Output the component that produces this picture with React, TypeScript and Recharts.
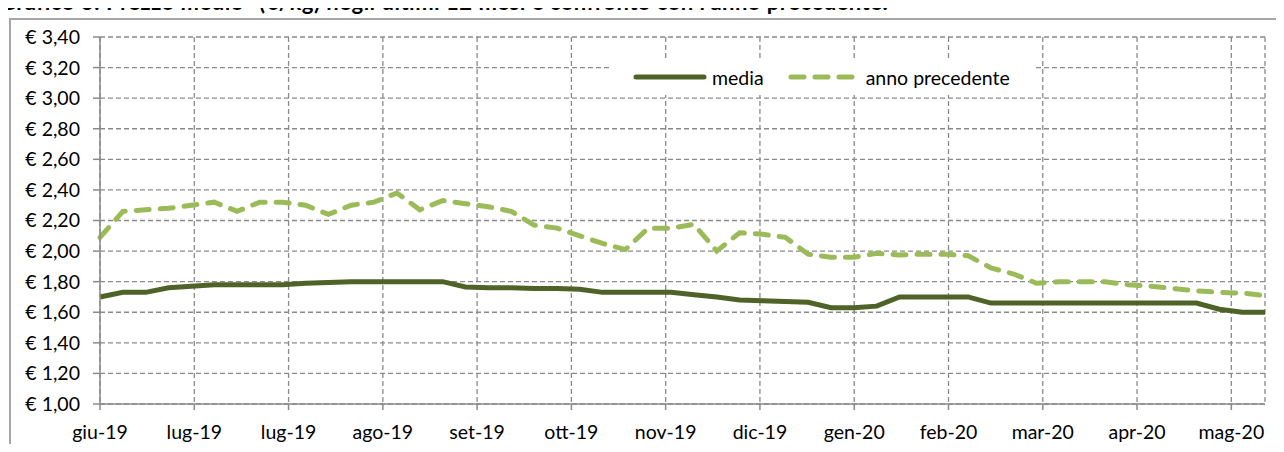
import { CartesianGrid, Legend, Line, LineChart, XAxis, YAxis } from "recharts";

// Prezzo medio settimanale (€/kg), ultimi 12 mesi vs anno precedente.

const TITLE =
  "Grafico 3: Prezzo medio* (€/kg) negli ultimi 12 mesi e confronto con l'anno precedente.";

const weeks = [
  1, 2, 3, 4, 5, 6, 7, 8, 9, 10, 11, 12, 13, 14, 15, 16, 17, 18, 19, 20, 21, 22, 23, 24, 25, 26,
  27, 28, 29, 30, 31, 32, 33, 34, 35, 36, 37, 38, 39, 40, 41, 42, 43, 44, 45, 46, 47, 48, 49, 50,
  51, 52,
];

const media = [
  1.7, 1.73, 1.73, 1.76, 1.77, 1.78, 1.78, 1.78, 1.78, 1.79, 1.795, 1.8, 1.8, 1.8, 1.8, 1.8,
  1.765, 1.76, 1.76, 1.755, 1.755, 1.75, 1.73, 1.73, 1.73, 1.73, 1.715, 1.7, 1.68, 1.675, 1.67,
  1.665, 1.63, 1.63, 1.64, 1.7, 1.7, 1.7, 1.7, 1.66, 1.66, 1.66, 1.66, 1.66, 1.66, 1.66, 1.66,
  1.66, 1.66, 1.62, 1.6, 1.6,
];

const annoPrecedente = [
  2.09, 2.26, 2.27, 2.28, 2.3, 2.32, 2.26, 2.32, 2.32, 2.3, 2.24, 2.3, 2.32, 2.38, 2.27, 2.33,
  2.31, 2.29, 2.26, 2.17, 2.15, 2.1, 2.05, 2.01, 2.15, 2.15, 2.175, 2.0, 2.12, 2.11, 2.09, 1.98,
  1.96, 1.96, 1.985, 1.975, 1.98, 1.98, 1.97, 1.89, 1.85, 1.79, 1.8, 1.8, 1.8, 1.78, 1.77, 1.755,
  1.74, 1.73, 1.725, 1.71,
];

const seriesNames = ["media", "anno precedente"];

// date axis: days since the first week, a label every 28 days
const tickDays = [0, 28, 56, 84, 112, 140, 168, 196, 224, 252, 280, 308, 336];
const tickLabels = [
  "giu-19", "lug-19", "lug-19", "ago-19", "set-19", "ott-19", "nov-19",
  "dic-19", "gen-20", "feb-20", "mar-20", "apr-20", "mag-20",
];
const lastDay = 346;

const yTicks = [1.0, 1.2, 1.4, 1.6, 1.8, 2.0, 2.2, 2.4, 2.6, 2.8, 3.0, 3.2, 3.4];

const data = weeks.map((week, i) => ({
  week,
  media: media[i],
  annoPrecedente: annoPrecedente[i],
}));

// the weeks span lastDay days, so place the day ticks on the week scale
const firstWeek = weeks[0];
const lastWeek = weeks[weeks.length - 1];
const xTicks = tickDays.map((d) => firstWeek + (d * (lastWeek - firstWeek)) / lastDay);

const FONT = "Lato, 'Liberation Sans', sans-serif";
const GRID = "#8a8a8a";
const DARK = "#4f6228";
const LIGHT = "#9bbb59";

const euro = (v: number) => "€ " + v.toFixed(2).replace(".", ",");

function LegendBox({ payload }: any) {
  const items = [...(payload ?? [])].sort(
    (a: any, b: any) => seriesNames.indexOf(a.value) - seriesNames.indexOf(b.value)
  );
  return (
    <div
      style={{
        display: "flex",
        alignItems: "center",
        height: 36,
        background: "#fff",
        paddingLeft: 21,
        fontFamily: FONT,
        fontSize: 19.5,
        color: "#000",
      }}
    >
      {items.map((entry: any) => {
        const dashed = !!entry.payload?.strokeDasharray;
        return (
          <div key={entry.value} style={{ display: "flex", alignItems: "center", marginRight: 24 }}>
            <svg width={dashed ? 67 : 74} height={10}>
              <line
                x1={3}
                x2={dashed ? 64 : 71}
                y1={5}
                y2={5}
                stroke={entry.color}
                strokeWidth={5}
                strokeLinecap="round"
                strokeDasharray={dashed ? "13 11" : undefined}
              />
            </svg>
            <span style={{ marginLeft: dashed ? 11 : 5 }}>{entry.value}</span>
          </div>
        );
      })}
    </div>
  );
}

export default function App() {
  return (
    <div
      style={{
        position: "relative",
        width: 1284,
        height: 452,
        margin: -8,
        overflow: "hidden",
        background: "#fff",
        fontFamily: FONT,
      }}
    >
      <div
        style={{
          position: "absolute",
          left: 0,
          top: -8,
          fontWeight: 700,
          fontSize: 22,
          letterSpacing: 0.5,
          lineHeight: "20px",
          whiteSpace: "nowrap",
          color: "#000",
        }}
      >
        {TITLE}
      </div>
      <div
        style={{
          position: "absolute",
          left: 9,
          top: 18,
          width: 1400,
          height: 600,
          borderLeft: "2px solid #a6a6a6",
          borderTop: "2px solid #a6a6a6",
        }}
      />
      <LineChart
        width={1284}
        height={452}
        data={data}
        margin={{ top: 37, right: 19, bottom: 18, left: 0 }}
        style={{ position: "absolute", left: 0, top: 0 }}
      >
        <CartesianGrid stroke={GRID} strokeWidth={1.3} strokeDasharray="5 3" />
        <XAxis
          dataKey="week"
          type="number"
          domain={[firstWeek, lastWeek]}
          ticks={xTicks}
          tickFormatter={(_v: number, i: number) => tickLabels[i]}
          interval={0}
          height={30}
          tickSize={6}
          tickMargin={15}
          stroke={GRID}
          strokeWidth={1.5}
          tick={{ fill: "#000", fontSize: 19.5, fontFamily: FONT }}
        />
        <YAxis
          type="number"
          domain={[1, 3.4]}
          ticks={yTicks}
          interval={0}
          width={100}
          tickFormatter={euro}
          tickSize={7}
          tickMargin={13}
          stroke={GRID}
          strokeWidth={1.5}
          tick={{ fill: "#000", fontSize: 19.5, fontFamily: FONT }}
        />
        <Legend
          layout="horizontal"
          verticalAlign="middle"
          align="center"
          content={<LegendBox />}
          wrapperStyle={{ left: 612, top: 59, width: 423 }}
        />
        <Line
          type="linear"
          dataKey="media"
          name={seriesNames[0]}
          stroke={DARK}
          strokeWidth={5}
          dot={false}
          isAnimationActive={false}
        />
        <Line
          type="linear"
          dataKey="annoPrecedente"
          name={seriesNames[1]}
          stroke={LIGHT}
          strokeWidth={5}
          strokeDasharray="13 11"
          strokeLinecap="round"
          dot={false}
          isAnimationActive={false}
        />
      </LineChart>
    </div>
  );
}
